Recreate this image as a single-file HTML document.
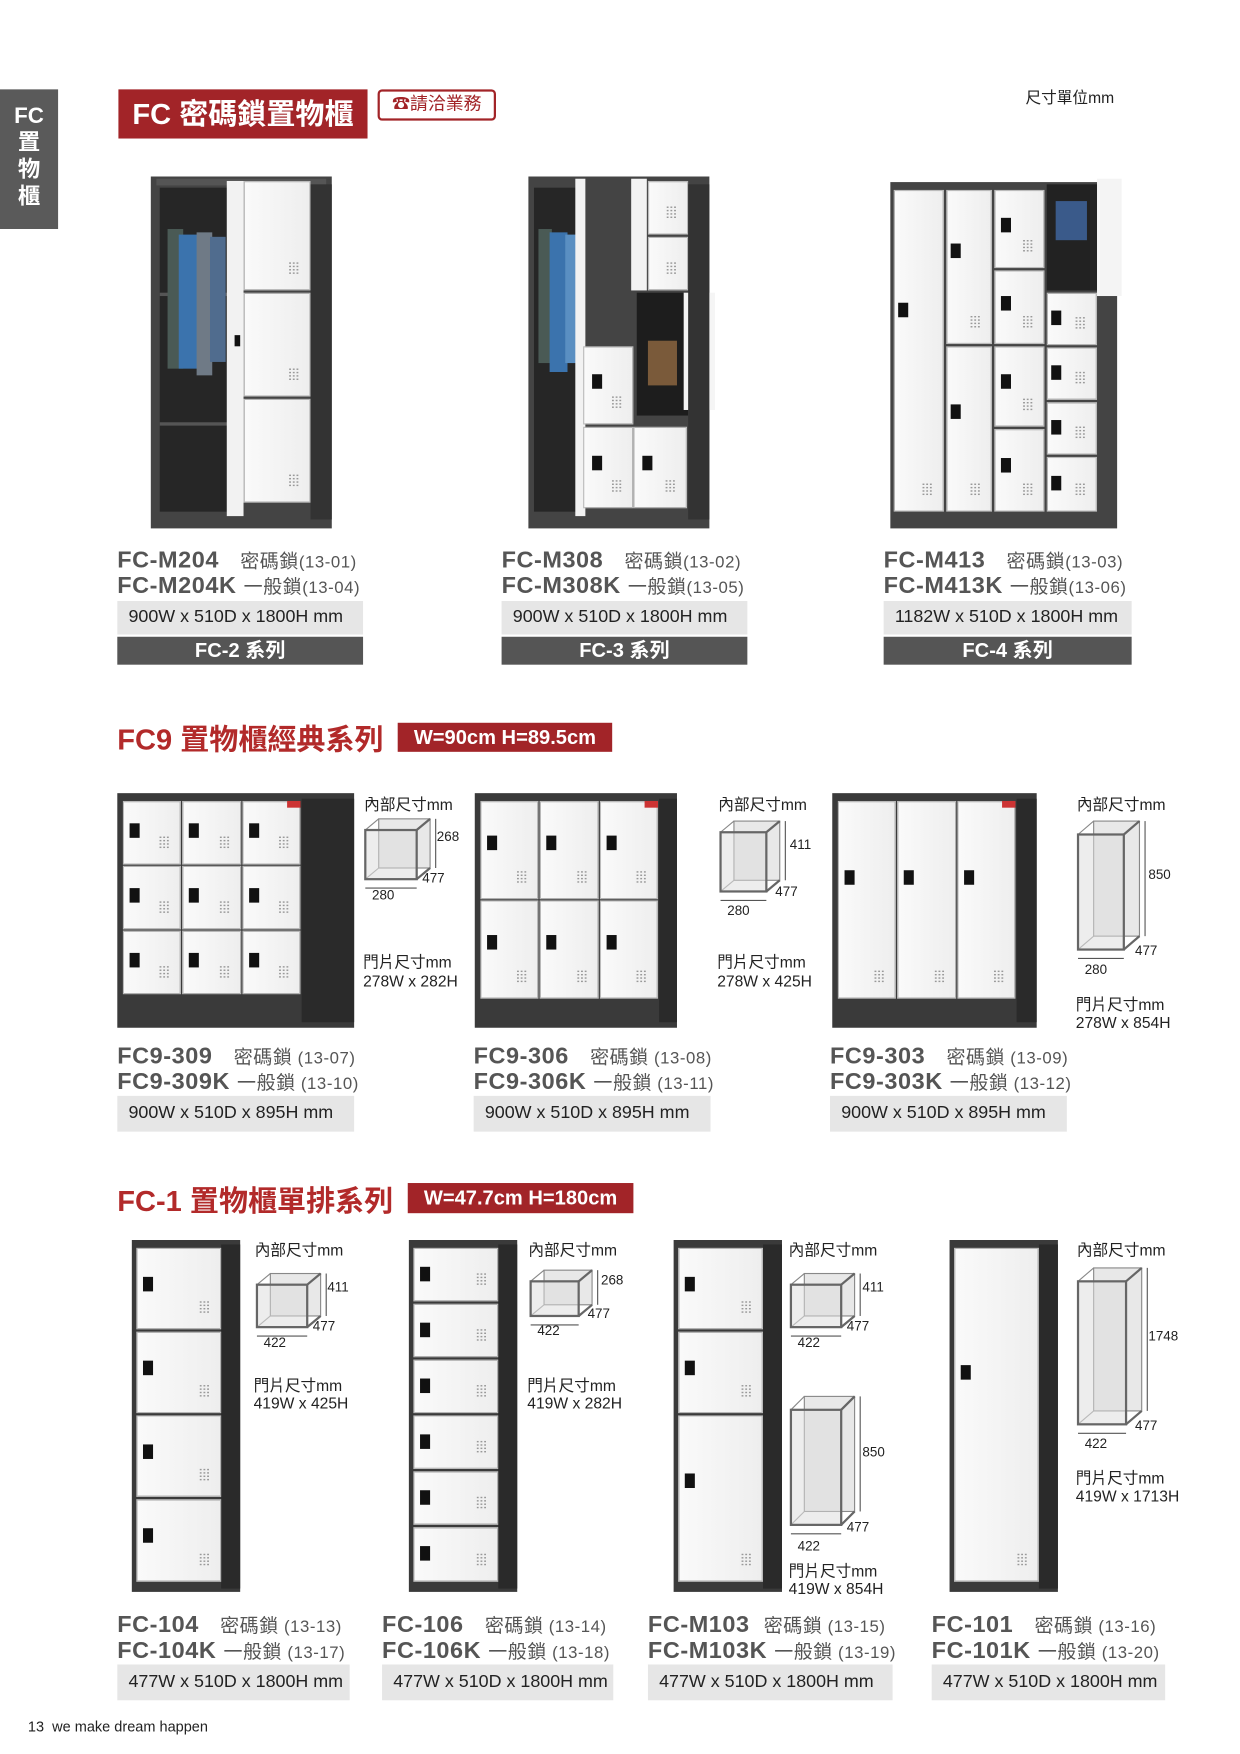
<!DOCTYPE html>
<html><head><meta charset="utf-8">
<style>
html,body{margin:0;padding:0;background:#fff;}
body{width:1240px;height:1754px;overflow:hidden;position:relative;}
#pg{position:absolute;left:0;top:0;width:1110px;height:1570px;transform:scale(1.11712);transform-origin:0 0;font-family:"Liberation Sans","Noto Sans CJK TC",sans-serif;color:#444;}
.a{position:absolute;white-space:nowrap;}
.m{font-weight:bold;font-size:21px;color:#555;letter-spacing:0.5px;}
.m span{font-weight:normal;font-size:17px;}
.m span b{font-weight:normal;font-size:15px;}
.sz{position:absolute;background:#e6e6e6;font-size:16px;color:#222;padding-left:10px;box-sizing:border-box;line-height:30px;}
.ser{position:absolute;background:#555;color:#fff;font-size:18px;font-weight:bold;text-align:center;line-height:25px;}
.h{font-size:26px;font-weight:bold;color:#b22a2a;}
.rb{position:absolute;background:#a22428;color:#fff;font-weight:bold;font-size:18px;text-align:center;line-height:27px;}
.t{font-size:14px;color:#222;}
.n{font-size:12px;color:#222;}
.door{position:absolute;background:linear-gradient(90deg,#fafafa,#eee);border:1px solid #bbb;box-sizing:border-box;}
.lk{position:absolute;width:9px;height:13px;background:#111;}
.vt{position:absolute;width:10px;height:12px;background-image:radial-gradient(#999 35%,transparent 40%);background-size:3.3px 3px;}
</style></head><body><div id="pg">

<div class="a" style="left:0;top:80px;width:52px;height:125px;background:#5a5a5a;color:#fff;font-weight:bold;font-size:20px;text-align:center;line-height:24px;padding-top:12px;box-sizing:border-box;">FC<br>置<br>物<br>櫃</div>
<div class="a" style="left:106px;top:80px;width:223px;height:44px;background:#a22428;color:#fff;font-weight:bold;font-size:26px;line-height:44px;text-align:center;">FC 密碼鎖置物櫃</div>
<div class="a" style="left:338px;top:80px;width:102px;height:24px;border:2px solid #a22428;border-radius:4px;color:#a22428;font-size:16px;line-height:24px;text-align:center;">☎請洽業務</div>
<div class="a" style="left:918px;top:77px;font-size:14px;color:#222;">尺寸單位mm</div>

<!-- row1 labels -->
<div class="a m" style="left:105px;top:488px;">FC-M204 &nbsp;&nbsp;<span>密碼鎖<b>(13-01)</b></span></div>
<div class="a m" style="left:105px;top:511px;">FC-M204K <span>一般鎖<b>(13-04)</b></span></div>
<div class="sz" style="left:105px;top:538px;width:220px;height:30px;">900W x 510D x 1800H mm</div>
<div class="ser" style="left:105px;top:570px;width:220px;height:25px;">FC-2 系列</div>

<div class="a m" style="left:449px;top:488px;">FC-M308 &nbsp;&nbsp;<span>密碼鎖<b>(13-02)</b></span></div>
<div class="a m" style="left:449px;top:511px;">FC-M308K <span>一般鎖<b>(13-05)</b></span></div>
<div class="sz" style="left:449px;top:538px;width:220px;height:30px;">900W x 510D x 1800H mm</div>
<div class="ser" style="left:449px;top:570px;width:220px;height:25px;">FC-3 系列</div>

<div class="a m" style="left:791px;top:488px;">FC-M413 &nbsp;&nbsp;<span>密碼鎖<b>(13-03)</b></span></div>
<div class="a m" style="left:791px;top:511px;">FC-M413K <span>一般鎖<b>(13-06)</b></span></div>
<div class="sz" style="left:791px;top:538px;width:222px;height:30px;">1182W x 510D x 1800H mm</div>
<div class="ser" style="left:791px;top:570px;width:222px;height:25px;">FC-4 系列</div>

<!-- FC9 -->
<div class="a h" style="left:105px;top:642px;">FC9 置物櫃經典系列</div>
<div class="rb" style="left:356px;top:647px;width:192px;height:26px;">W=90cm H=89.5cm</div>

<div class="a t" style="left:326px;top:710px;">內部尺寸mm</div>
<div class="a n" style="left:391px;top:742px;">268</div><div class="a n" style="left:378px;top:779px;">477</div><div class="a n" style="left:333px;top:794px;">280</div>
<div class="a t" style="left:325px;top:851px;">門片尺寸mm</div><div class="a t" style="left:325px;top:870px;">278W x 282H</div>

<div class="a t" style="left:643px;top:710px;">內部尺寸mm</div>
<div class="a n" style="left:707px;top:749px;">411</div><div class="a n" style="left:694px;top:791px;">477</div><div class="a n" style="left:651px;top:808px;">280</div>
<div class="a t" style="left:642px;top:851px;">門片尺寸mm</div><div class="a t" style="left:642px;top:870px;">278W x 425H</div>

<div class="a t" style="left:964px;top:710px;">內部尺寸mm</div>
<div class="a n" style="left:1028px;top:776px;">850</div><div class="a n" style="left:1016px;top:844px;">477</div><div class="a n" style="left:971px;top:861px;">280</div>
<div class="a t" style="left:963px;top:889px;">門片尺寸mm</div><div class="a t" style="left:963px;top:907px;">278W x 854H</div>

<div class="a m" style="left:105px;top:932px;">FC9-309 &nbsp;&nbsp;<span>密碼鎖<b> (13-07)</b></span></div>
<div class="a m" style="left:105px;top:955px;">FC9-309K <span>一般鎖<b> (13-10)</b></span></div>
<div class="sz" style="left:105px;top:981px;width:212px;height:32px;line-height:32px;">900W x 510D x 895H mm</div>
<div class="a m" style="left:424px;top:932px;">FC9-306 &nbsp;&nbsp;<span>密碼鎖<b> (13-08)</b></span></div>
<div class="a m" style="left:424px;top:955px;">FC9-306K <span>一般鎖<b> (13-11)</b></span></div>
<div class="sz" style="left:424px;top:981px;width:212px;height:32px;line-height:32px;">900W x 510D x 895H mm</div>
<div class="a m" style="left:743px;top:932px;">FC9-303 &nbsp;&nbsp;<span>密碼鎖<b> (13-09)</b></span></div>
<div class="a m" style="left:743px;top:955px;">FC9-303K <span>一般鎖<b> (13-12)</b></span></div>
<div class="sz" style="left:743px;top:981px;width:212px;height:32px;line-height:32px;">900W x 510D x 895H mm</div>

<!-- FC-1 -->
<div class="a h" style="left:105px;top:1055px;">FC-1 置物櫃單排系列</div>
<div class="rb" style="left:365px;top:1059px;width:202px;height:27px;">W=47.7cm H=180cm</div>

<div class="a t" style="left:228px;top:1109px;">內部尺寸mm</div>
<div class="a n" style="left:293px;top:1145px;">411</div><div class="a n" style="left:280px;top:1180px;">477</div><div class="a n" style="left:236px;top:1195px;">422</div>
<div class="a t" style="left:227px;top:1230px;">門片尺寸mm</div><div class="a t" style="left:227px;top:1248px;">419W x 425H</div>

<div class="a t" style="left:473px;top:1109px;">內部尺寸mm</div>
<div class="a n" style="left:538px;top:1139px;">268</div><div class="a n" style="left:526px;top:1169px;">477</div><div class="a n" style="left:481px;top:1184px;">422</div>
<div class="a t" style="left:472px;top:1230px;">門片尺寸mm</div><div class="a t" style="left:472px;top:1248px;">419W x 282H</div>

<div class="a t" style="left:706px;top:1109px;">內部尺寸mm</div>
<div class="a n" style="left:772px;top:1145px;">411</div><div class="a n" style="left:758px;top:1180px;">477</div><div class="a n" style="left:714px;top:1195px;">422</div>
<div class="a n" style="left:772px;top:1293px;">850</div><div class="a n" style="left:758px;top:1360px;">477</div><div class="a n" style="left:714px;top:1377px;">422</div>
<div class="a t" style="left:706px;top:1396px;">門片尺寸mm</div><div class="a t" style="left:706px;top:1414px;">419W x 854H</div>

<div class="a t" style="left:964px;top:1109px;">內部尺寸mm</div>
<div class="a n" style="left:1028px;top:1189px;">1748</div><div class="a n" style="left:1016px;top:1269px;">477</div><div class="a n" style="left:971px;top:1285px;">422</div>
<div class="a t" style="left:963px;top:1313px;">門片尺寸mm</div><div class="a t" style="left:963px;top:1331px;">419W x 1713H</div>

<div class="a m" style="left:105px;top:1441px;">FC-104 &nbsp;&nbsp;<span>密碼鎖<b> (13-13)</b></span></div>
<div class="a m" style="left:105px;top:1464px;">FC-104K <span>一般鎖<b> (13-17)</b></span></div>
<div class="sz" style="left:105px;top:1490px;width:208px;height:32px;line-height:32px;">477W x 510D x 1800H mm</div>
<div class="a m" style="left:342px;top:1441px;">FC-106 &nbsp;&nbsp;<span>密碼鎖<b> (13-14)</b></span></div>
<div class="a m" style="left:342px;top:1464px;">FC-106K <span>一般鎖<b> (13-18)</b></span></div>
<div class="sz" style="left:342px;top:1490px;width:207px;height:32px;line-height:32px;">477W x 510D x 1800H mm</div>
<div class="a m" style="left:580px;top:1441px;">FC-M103 &nbsp;<span>密碼鎖<b> (13-15)</b></span></div>
<div class="a m" style="left:580px;top:1464px;">FC-M103K <span>一般鎖<b> (13-19)</b></span></div>
<div class="sz" style="left:580px;top:1490px;width:219px;height:32px;line-height:32px;">477W x 510D x 1800H mm</div>
<div class="a m" style="left:834px;top:1441px;">FC-101 &nbsp;&nbsp;<span>密碼鎖<b> (13-16)</b></span></div>
<div class="a m" style="left:834px;top:1464px;">FC-101K <span>一般鎖<b> (13-20)</b></span></div>
<div class="sz" style="left:834px;top:1490px;width:209px;height:32px;line-height:32px;">477W x 510D x 1800H mm</div>

<div class="a" style="left:25px;top:1538px;font-size:13px;color:#222;">13 &nbsp;we make dream happen</div>

<div id="g"></div>
</div>
<script>
var g=document.getElementById('g');
function el(s){g.insertAdjacentHTML('beforeend',s);}
function box(x,y,w,h,c){el('<div class="a" style="left:'+x+'px;top:'+y+'px;width:'+w+'px;height:'+h+'px;background:'+c+'"></div>');}
function door(x,y,w,h,lock,lx){el('<div class="door" style="left:'+x+'px;top:'+y+'px;width:'+w+'px;height:'+h+'px"></div>');
 if(lock){el('<div class="lk" style="left:'+(x+(lx||6))+'px;top:'+(y+h*0.35)+'px"></div>');}
 if(h>40)el('<div class="vt" style="left:'+(x+w-20)+'px;top:'+(y+h-26)+'px"></div>');}
function cube(x,y,w,h,ox,oy){var fw=w-ox,fh=h-oy;
 var s='<svg class="a" style="left:'+x+'px;top:'+y+'px;overflow:visible" width="'+w+'" height="'+h+'">';
 s+='<rect x="'+ox+'" y="0" width="'+fw+'" height="'+fh+'" fill="#e8e8e8" stroke="#888" stroke-width="1"/>';
 s+='<line x1="0" y1="'+oy+'" x2="'+ox+'" y2="0" stroke="#888"/><line x1="'+fw+'" y1="'+oy+'" x2="'+w+'" y2="0" stroke="#666" stroke-width="2"/>';
 s+='<line x1="0" y1="'+h+'" x2="'+ox+'" y2="'+fh+'" stroke="#999"/><line x1="'+fw+'" y1="'+h+'" x2="'+w+'" y2="'+fh+'" stroke="#666" stroke-width="2"/>';
 s+='<rect x="0" y="'+oy+'" width="'+fw+'" height="'+fh+'" fill="rgba(220,220,220,0.5)" stroke="#666" stroke-width="2"/>';
 s+='<line x1="'+(w+5)+'" y1="0" x2="'+(w+5)+'" y2="'+fh+'" stroke="#555"/>';
 s+='<line x1="0" y1="'+(h+8)+'" x2="'+fw+'" y2="'+(h+8)+'" stroke="#555"/>';
 s+='</svg>';el(s);}

/* row1 cabinet 1 */
box(135,158,162,315,'#444');box(140,160,152,6,'#555');
box(143,168,62,290,'#262626');box(143,262,62,3,'#555');box(143,378,62,3,'#555');
box(150,205,14,125,'#4a5a55');box(160,210,18,120,'#3b73ad');box(176,208,14,128,'#6f7a86');box(188,212,14,112,'#506c8e');
door(218,162,60,98,0);door(218,262,60,93,0);door(218,357,60,93,0);
box(203,162,15,300,'#f2f2f2');el('<div class="lk" style="left:210px;top:300px;width:5px;height:10px"></div>');
box(278,165,19,300,'#333');

/* cabinet 2 */
box(473,158,162,315,'#444');box(478,168,42,290,'#262626');
box(482,205,12,120,'#4a5a55');box(492,208,16,125,'#3b73ad');box(506,210,12,115,'#5a8fc2');
box(515,160,9,302,'#f2f2f2');
door(580,162,36,48,0);door(580,212,36,48,0);
box(570,262,46,110,'#1d1d1d');box(580,305,26,40,'#7a5a3a');
door(522,310,45,70,1,8);door(522,382,45,73,1,8);door(567,382,48,73,1,8);
box(565,160,14,100,'#f2f2f2');box(612,262,28,105,'#f5f5f5');box(616,165,19,300,'#333');

/* cabinet 3 */
box(797,163,203,310,'#444');
door(800,170,45,288,1,4);
door(847,170,41,138,1,4);door(847,310,41,148,1,4);
door(890,170,45,70,1,6);door(890,242,45,66,1,6);door(890,310,45,72,1,6);door(890,384,45,74,1,6);
box(937,165,45,95,'#222');box(945,180,28,35,'#3a5a8a');box(982,160,22,105,'#f4f4f4');
door(937,262,45,47,1,4);door(937,311,45,47,1,4);door(937,360,45,47,1,4);door(937,409,45,49,1,4);

/* FC9 */
function fc9(x,cols,rows,x2){box(x,710,x2-x,210,'#3a3a3a');box(x+165,715,x2-x-165,200,'#2a2a2a');
 var w=160/cols,h=(rows==1?178:(rows==2?178:174))/rows;
 for(var c=0;c<cols;c++)for(var r=0;r<rows;r++)door(x+5+c*w,717+r*h,w-1,h-1,1,6);}
fc9(105,3,3,317);fc9(425,3,2,606);fc9(745,3,1,928);
box(257,717,12,6,'#c33');box(577,717,12,6,'#c33');box(897,717,12,6,'#c33');
cube(327,733,58,54,12,10);cube(645,735,53,63,12,10);cube(965,735,55,115,14,12);

/* FC-1 */
function fc1(x,arr){box(x,1110,97,315,'#3a3a3a');box(x+80,1114,17,308,'#2a2a2a');
 var y=1117;for(var i=0;i<arr.length;i++){door(x+4,y,76,arr[i]-2,1,6);y+=arr[i];}}
fc1(118,[75,75,75,76]);fc1(366,[50,50,50,50,50,51]);fc1(603,[75,75,151]);fc1(850,[301]);
cube(230,1140,57,48,12,10);cube(475,1137,55,41,12,10);cube(708,1140,57,48,12,10);cube(708,1250,57,115,12,12);cube(965,1135,57,140,14,12);
</script>
</body></html>
